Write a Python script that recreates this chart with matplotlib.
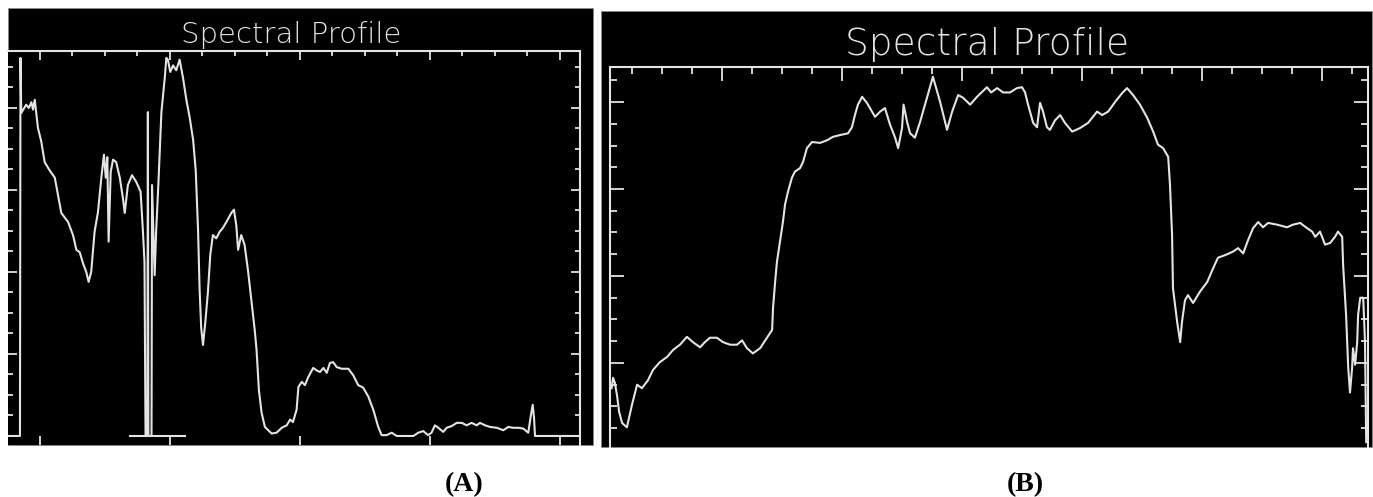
import numpy as np
import matplotlib.pyplot as plt
from matplotlib.patches import Rectangle
from matplotlib.ticker import MultipleLocator

# ---- panel A : wavelength (nm) vs reflectance ----
wl_a = [377, 423, 425, 428, 447, 457, 467, 473, 480, 492,
        505, 518, 537, 557, 569, 582, 608, 627, 640, 653,
        665, 678, 687, 697, 710, 723, 736, 746, 753, 759,
        764, 772, 781, 793, 807, 819, 826, 838, 854, 870,
        887, 896, 902, 904, 906, 913, 915, 917, 929, 931,
        941, 947, 956, 967, 980, 986, 992, 1001, 1012, 1024,
        1037, 1050, 1063, 1076, 1089, 1099, 1108, 1114, 1120, 1127,
        1136, 1146, 1155, 1165, 1178, 1191, 1204, 1217, 1236, 1246,
        1255, 1262, 1274, 1287, 1300, 1313, 1326, 1333, 1342, 1352,
        1365, 1391, 1410, 1430, 1449, 1462, 1473, 1487, 1494, 1507,
        1519, 1532, 1551, 1564, 1577, 1590, 1603, 1615, 1628, 1641,
        1660, 1686, 1705, 1724, 1743, 1763, 1782, 1801, 1814, 1833,
        1853, 1872, 1891, 1910, 1936, 1955, 1974, 1993, 2006, 2019,
        2032, 2051, 2064, 2083, 2103, 2122, 2141, 2160, 2180, 2192,
        2212, 2231, 2257, 2282, 2301, 2320, 2340, 2359, 2378, 2387,
        2395, 2400, 2404, 2577]
refl_a = [0.0, 0.0, 0.461, 0.394, 0.404, 0.400, 0.407, 0.398, 0.410, 0.376,
          0.359, 0.334, 0.324, 0.315, 0.294, 0.272, 0.261, 0.245, 0.227, 0.224,
          0.211, 0.200, 0.188, 0.200, 0.249, 0.273, 0.315, 0.343, 0.315, 0.340,
          0.237, 0.322, 0.337, 0.334, 0.315, 0.290, 0.272, 0.306, 0.318, 0.310,
          0.298, 0.249, 0.212, 0.099, 0.0, 0.0, 0.395, 0.0, 0.0, 0.306,
          0.196, 0.251, 0.312, 0.395, 0.437, 0.461, 0.459, 0.444, 0.452, 0.446,
          0.459, 0.437, 0.410, 0.388, 0.361, 0.324, 0.251, 0.178, 0.132, 0.111,
          0.139, 0.176, 0.221, 0.245, 0.241, 0.249, 0.254, 0.261, 0.272, 0.276,
          0.257, 0.227, 0.245, 0.233, 0.202, 0.166, 0.129, 0.105, 0.056, 0.029,
          0.011, 0.003, 0.004, 0.010, 0.013, 0.020, 0.017, 0.032, 0.060, 0.066,
          0.062, 0.072, 0.083, 0.080, 0.078, 0.083, 0.077, 0.089, 0.090, 0.084,
          0.082, 0.082, 0.074, 0.062, 0.059, 0.048, 0.032, 0.011, 0.001, 0.001,
          0.004, 0.0, 0.0, 0.0, 0.0, 0.004, 0.006, 0.001, 0.004, 0.013,
          0.010, 0.005, 0.010, 0.012, 0.016, 0.016, 0.013, 0.016, 0.013, 0.016,
          0.013, 0.011, 0.010, 0.007, 0.011, 0.010, 0.010, 0.009, 0.004, 0.023,
          0.038, 0.023, 0.0, 0.0]
# zero-level marker under the absorption band
wl_a_zero = [846, 1058]
refl_a_zero = [0.0, 0.0]

# ---- panel B : band number vs reflectance ----
band_b = [3.2, 3.7, 4.3, 5.0, 5.7, 6.7, 8.3, 10.0, 11.7, 13.3,
          15.3, 17.0, 19.3, 21.7, 23.7, 26.0, 28.3, 30.3, 32.7, 34.3,
          36.0, 38.3, 40.3, 42.7, 45.0, 46.7, 48.3, 50.3, 52.7, 55.0,
          56.7, 57.0, 57.7, 58.3, 59.3, 60.3, 61.0, 62.0, 63.3, 64.3,
          66.0, 67.0, 68.3, 70.0, 72.7, 75.0, 77.0, 79.3, 82.0, 83.3,
          84.3, 85.3, 86.7, 88.3, 91.0, 92.7, 94.3, 96.0, 97.7, 98.7,
          100.0, 100.5, 101.7, 102.7, 104.3, 106.0, 108.3, 110.3, 112.7, 115.0,
          116.7, 118.7, 120.3, 122.7, 125.0, 128.3, 129.7, 131.7, 133.7, 136.0,
          138.3, 140.0, 141.0, 142.0, 143.7, 145.0, 146.0, 147.0, 148.3, 149.3,
          151.0, 152.7, 154.3, 156.7, 159.3, 162.0, 165.0, 166.7, 168.7, 171.0,
          173.3, 175.0, 177.0, 179.3, 181.7, 183.7, 185.3, 187.0, 188.7, 189.3,
          190.0, 190.3, 191.7, 192.7, 193.3, 194.3, 195.3, 197.0, 199.3, 201.7,
          203.7, 205.3, 207.7, 210.3, 212.0, 213.7, 215.3, 217.0, 218.7, 220.3,
          222.0, 225.0, 228.3, 230.3, 232.7, 235.0, 236.7, 237.7, 239.3, 241.0,
          242.7, 244.3, 245.3, 246.7, 247.0, 248.0, 248.7, 249.3, 250.0, 250.3,
          251.0, 251.7, 252.0, 252.7, 253.7, 254.3, 254.7]
refl_b = [0.071, 0.083, 0.077, 0.063, 0.044, 0.031, 0.026, 0.052, 0.075, 0.071,
          0.080, 0.092, 0.101, 0.107, 0.115, 0.121, 0.130, 0.124, 0.118, 0.124,
          0.129, 0.129, 0.124, 0.121, 0.121, 0.126, 0.117, 0.111, 0.117, 0.129,
          0.138, 0.163, 0.193, 0.216, 0.239, 0.262, 0.282, 0.297, 0.313, 0.320,
          0.324, 0.331, 0.347, 0.354, 0.353, 0.356, 0.360, 0.362, 0.364, 0.371,
          0.385, 0.397, 0.406, 0.399, 0.383, 0.389, 0.393, 0.374, 0.359, 0.347,
          0.370, 0.397, 0.377, 0.364, 0.359, 0.377, 0.405, 0.429, 0.400, 0.368,
          0.389, 0.408, 0.405, 0.397, 0.406, 0.417, 0.411, 0.416, 0.411, 0.411,
          0.416, 0.417, 0.411, 0.397, 0.376, 0.371, 0.399, 0.389, 0.371, 0.368,
          0.379, 0.385, 0.376, 0.366, 0.370, 0.376, 0.389, 0.385, 0.389, 0.400,
          0.410, 0.416, 0.408, 0.397, 0.382, 0.366, 0.351, 0.347, 0.337, 0.305,
          0.247, 0.186, 0.147, 0.124, 0.147, 0.172, 0.178, 0.169, 0.182, 0.193,
          0.209, 0.221, 0.224, 0.228, 0.232, 0.226, 0.241, 0.255, 0.262, 0.256,
          0.261, 0.259, 0.256, 0.259, 0.261, 0.255, 0.251, 0.245, 0.251, 0.236,
          0.238, 0.245, 0.251, 0.245, 0.213, 0.155, 0.095, 0.066, 0.094, 0.117,
          0.098, 0.124, 0.155, 0.175, 0.175, 0.124, 0.009]

W, H = 1373, 497
FG = '#e4e4e4'

fig = plt.figure(figsize=(W / 100, H / 100), dpi=100)
fig.patch.set_facecolor('white')


def box(l, t, r, b):
    # pixel box -> figure fraction
    return [l / W, 1 - b / H, (r - l) / W, (b - t) / H]


# black plot windows
for l, t, r, b in [(8, 8, 593, 445), (601, 11, 1372, 447)]:
    x0, y0, w, h = box(l, t, r, b)
    fig.add_artist(Rectangle((x0, y0), w, h, transform=fig.transFigure,
                             facecolor='black', edgecolor='#888888', lw=0.6, zorder=-1))


def style(ax, xmaj, xmin, ymaj, ymin, majlen, minlen):
    ax.set_facecolor('black')
    for s in ax.spines.values():
        s.set_color(FG)
        s.set_linewidth(1.5)
    ax.xaxis.set_major_locator(MultipleLocator(xmaj))
    ax.xaxis.set_minor_locator(MultipleLocator(xmin))
    ax.yaxis.set_major_locator(MultipleLocator(ymaj))
    ax.yaxis.set_minor_locator(MultipleLocator(ymin))
    ax.tick_params(which='both', direction='in', top=True, right=True,
                   left=True, bottom=True, color=FG, width=1.3,
                   labelbottom=False, labelleft=False)
    ax.tick_params(which='major', length=majlen)
    ax.tick_params(which='minor', length=minlen)


# panel A
axa = fig.add_axes(box(8, 51, 580, 445))
style(axa, 500, 125, 0.1, 0.025, 6.5, 3.6)
axa.spines['left'].set_visible(False)
axa.spines['bottom'].set_visible(False)
axa.tick_params(axis='x', which='minor', bottom=False)
axa.tick_params(axis='x', which='major', bottom=True)
axa.plot(wl_a, refl_a, color=FG, lw=1.5)
axa.plot(wl_a_zero, refl_a_zero, color=FG, lw=1.5)
axa.set_xlim(377, 2577)
axa.set_ylim(-0.011, 0.4695)

# panel B
axb = fig.add_axes(box(610, 66.7, 1368, 447))
style(axb, 40, 10, 0.1, 0.025, 10, 5)
axb.spines['bottom'].set_visible(False)
axb.tick_params(axis='x', which='both', bottom=False)
axb.plot(band_b, refl_b, color=FG, lw=1.5)
axb.set_xlim(2.67, 255.3)
axb.set_ylim(0.0034, 0.4406)

# titles
fig.text(291 / W, 1 - 43 / H, 'Spectral Profile', ha='center', va='baseline',
         fontsize=21, color=FG, family='DejaVu Sans', fontweight='light')
fig.text(987 / W, 1 - 55 / H, 'Spectral Profile', ha='center', va='baseline',
         fontsize=27, color=FG, family='DejaVu Sans', fontweight='light')

# panel labels
for x, lab in [(464, '(A)'), (1025, '(B)')]:
    fig.text(x / W, 1 - 491 / H, lab, ha='center', va='baseline', fontsize=20,
             fontweight='bold', family=['Liberation Serif', 'DejaVu Serif'], color='black')

fig.savefig('out.png', dpi=100, facecolor='white')
